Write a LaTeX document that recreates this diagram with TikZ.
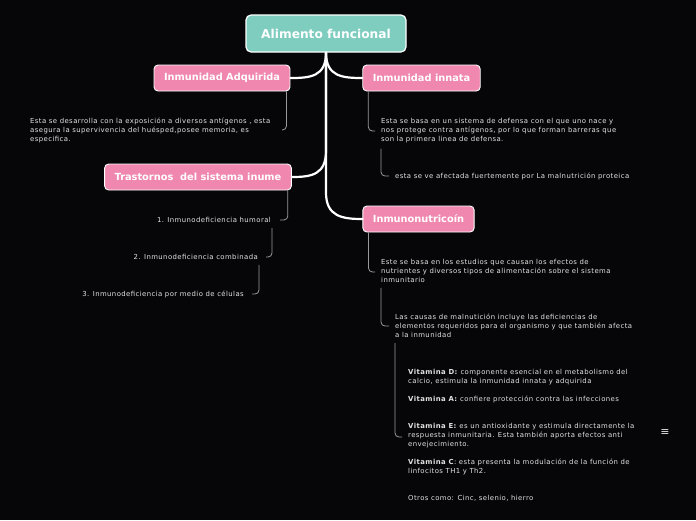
\documentclass[tikz,border=0pt]{standalone}
\usepackage{fontspec}
\setmainfont{DejaVu Sans}
\newfontfamily\symfont{DejaVu Sans}
\newfontfamily\notefont[LetterSpace=6]{DejaVu Sans}

\definecolor{bgblack}{HTML}{060608}
\definecolor{tealbox}{HTML}{7ECDBF}
\definecolor{pinkbox}{HTML}{F087AF}
\definecolor{txtgrey}{HTML}{E2E2E2}
\definecolor{linegrey}{HTML}{9A9A9A}

\tikzset{
  rootbox/.style={draw=white, line width=1.2pt, fill=tealbox, rounded corners=5pt,
    minimum width=160pt, minimum height=37pt, text=white,
    font={\fontsize{12.2}{14}\selectfont\bfseries}},
  topicbox/.style={draw=white, line width=0.9pt, fill=pinkbox, rounded corners=4pt,
    minimum height=26pt, inner xsep=10pt, text=white,
    font={\fontsize{9.8}{11}\selectfont\bfseries}},
  note/.style={text=txtgrey, inner sep=1pt, align=left,
    font={\notefont\fontsize{6.9}{9}\selectfont}},
  trunk/.style={draw=white, line width=2.2pt, line cap=round},
  twig/.style={draw=linegrey, line width=0.8pt, rounded corners=4pt}
}

\begin{document}
\begin{tikzpicture}[x=1pt, y=-1pt]

    % Background
    \fill[bgblack] (0,0) rectangle (696,520);
    \useasboundingbox (0,0) rectangle (696,520);

    % Main topics
    \node[rootbox] (root) at (326,33.5) {Alimento funcional};
    \node[topicbox] (adq) at (222,78) {Inmunidad Adquirida};
    \node[topicbox] (inn) at (421.5,78) {Inmunidad innata};
    \node[topicbox] (tras) at (198,177) {Trastornos\ \ del sistema inume};
    \node[topicbox] (nut) at (418.5,219) {Inmunonutricoín};

    % Trunk
    \draw[trunk] (root.south) .. controls +(0,24) and +(20,0) .. (adq.east);
    \draw[trunk] (root.south) .. controls +(0,24) and +(-20,0) .. (inn.west);
    \draw[trunk] (root.south) -- ++(0,98) .. controls +(0,24) and +(20,0) .. (tras.east);
    \draw[trunk] (root.south) -- ++(0,140) .. controls +(0,24) and +(-20,0) .. (nut.west);

    % Inmunidad Adquirida
    \node[note, anchor=west] (adqtxt) at (29,130)
        {Esta se desarrolla con la exposición a diversos antígenos , esta\\
         asegura la supervivencia del huésped,posee memoria, es\\
         especifica.};
    \draw[twig] ([xshift=-4pt]adq.south east) |- (282,130);

    % Inmunidad innata
    \node[note, anchor=west] (inntxt) at (380,131)
        {Esta se basa en un sistema de defensa con el que uno nace y\\
         nos protege contra antígenos, por lo que forman barreras que\\
         son la primera linea de defensa.};
    \node[note, anchor=west] (malnut) at (394,176)
        {esta se ve afectada fuertemente por La malnutrición proteica};
    \draw[twig] ([xshift=6pt]inn.south west) |- ([xshift=-5pt]inntxt.west);
    \draw[twig] ([xshift=1pt,yshift=-4pt]inntxt.south west) |- ([xshift=-5pt]malnut.west);

    % Trastornos
    \node[note, anchor=east] (hum) at (272,220) {1. Inmunodeficiencia humoral};
    \node[note, anchor=east] (comb) at (259,257) {2. Inmunodeficiencia combinada};
    \node[note, anchor=east] (cel) at (245,294) {3. Inmunodeficiencia por medio de células};
    \draw[twig] ([xshift=-4pt]tras.south east) |- ([xshift=8pt]hum.east);
    \draw[twig] ([xshift=0pt,yshift=-4pt]hum.south east) |- ([xshift=7pt]comb.east);
    \draw[twig] ([xshift=0pt,yshift=-4pt]comb.south east) |- ([xshift=7pt]cel.east);

    % Inmunonutricoin
    \node[note, anchor=west] (nuttxt) at (380,271)
        {Este se basa en los estudios que causan los efectos de\\
         nutrientes y diversos tipos de alimentación sobre el sistema\\
         inmunitario};
    \node[note, anchor=west] (causas) at (394,326)
        {Las causas de malnutición incluye las deficiencias de\\
         elementos requeridos para el organismo y que también afecta\\
         a la inmunidad};
    \node[note, anchor=west] (vitam) at (407,435)
        {\textbf{Vitamina D:} componente esencial en el metabolismo del\\
         calcio, estimula la inmunidad innata y adquirida\\[9pt]
         \textbf{Vitamina A:} confiere protección contra las infecciones\\[18pt]
         \textbf{Vitamina E:} es un antioxidante y estimula directamente la\\
         respuesta inmunitaria. Esta también aporta efectos anti\\
         envejecimiento.\\[9pt]
         \textbf{Vitamina C}: esta presenta la modulación de la función de\\
         linfocitos TH1 y Th2.\\[18pt]
         Otros como: Cinc, selenio, hierro};
    \draw[twig] ([xshift=6pt]nut.south west) |- ([xshift=-5pt,yshift=-1pt]nuttxt.west);
    \draw[twig] ([xshift=1pt,yshift=-4pt]nuttxt.south west) |- ([xshift=-5pt]causas.west);
    \draw[twig] ([xshift=1pt,yshift=-4pt]causas.south west) |- ([xshift=-5pt,yshift=-2pt]vitam.west);

    % Menu icon
    \node[text=txtgrey, font={\symfont\fontsize{11}{11}\selectfont}] (menu) at (665,433) {≡};

\end{tikzpicture}
\end{document}
